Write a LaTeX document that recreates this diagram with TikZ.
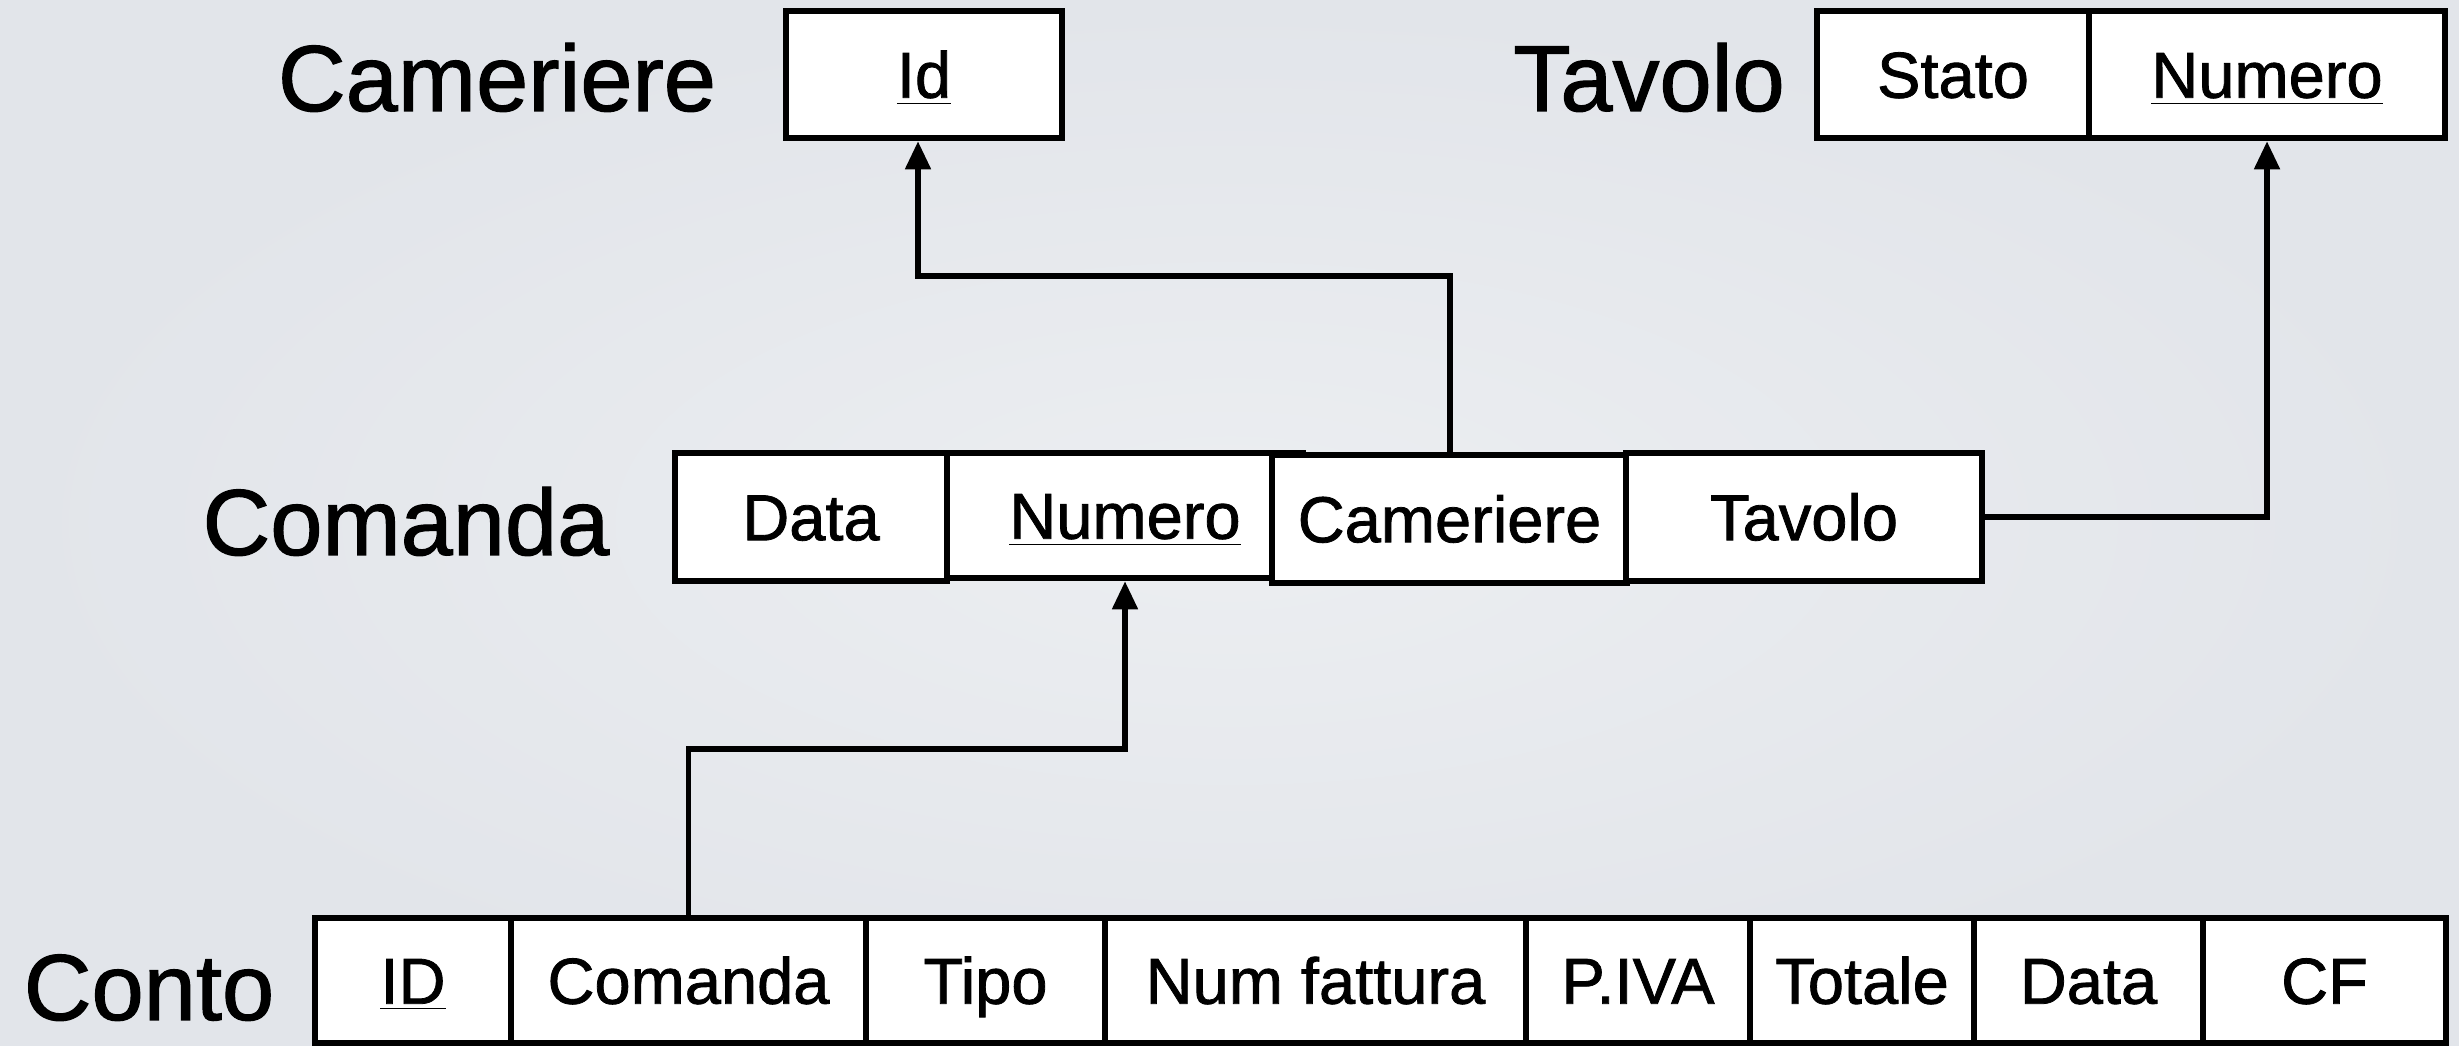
\documentclass[tikz,border=0pt]{standalone}
\usepackage{fontspec}
\setmainfont{Liberation Sans}
\newfontfamily\heavyfont[FakeBold=1.2]{Liberation Sans}
\usetikzlibrary{arrows.meta}
\definecolor{bgin}{RGB}{236,238,241}
\definecolor{bgout}{RGB}{226,229,234}
\tikzset{
  cell/.style={draw=black, line width=1.8pt, fill=white, rectangle, inner sep=0pt,
    font=\heavyfont\fontsize{18.5}{20}\selectfont, text height=0.465cm, text depth=0pt},
  lbl/.style={font=\heavyfont\fontsize{26.7}{30}\selectfont, inner sep=0pt, anchor=base},
  fk/.style={line width=1.7pt, -{Triangle[length=8pt,width=7pt]}}
}
\begin{document}
\begin{tikzpicture}
\useasboundingbox (0,0) rectangle (24.59,-10.46);
\shade[inner color=bgin, outer color=bgout] (0,0) rectangle (24.59,-10.46);

% labels
\node[lbl] (lCam) at (4.97,-1.11) {Cameriere};
\node[lbl] (lTav) at (16.49,-1.11) {Tavolo};
\node[lbl] (lCom) at (4.06,-5.55) {Comanda};
\node[lbl] (lCon) at (1.49,-10.20) {Conto};

% Cameriere
\node[cell, minimum width=2.76cm, minimum height=1.27cm] (camId) at (9.24,-0.745) {\underline{Id}};

% Tavolo
\node[cell, minimum width=2.72cm, minimum height=1.27cm] (tStato) at (19.53,-0.745) {Stato};
\node[cell, minimum width=3.56cm, minimum height=1.27cm] (tNum) at (22.67,-0.745) {\underline{Numero}};

% Comanda
\node[cell, minimum width=2.72cm, minimum height=1.28cm] (cData) at (8.11,-5.17) {Data};
\node[cell, minimum width=3.56cm, minimum height=1.25cm] (cNum) at (11.25,-5.155) {\underline{Numero}};
\node[cell, minimum width=3.55cm, minimum height=1.28cm] (cCam) at (14.495,-5.19) {Cameriere};
\node[cell, minimum width=3.56cm, minimum height=1.28cm] (cTav) at (18.04,-5.17) {Tavolo};

% Conto
\node[cell, minimum width=1.96cm, minimum height=1.25cm] (kId) at (4.13,-9.805) {\underline{ID}};
\node[cell, minimum width=3.55cm, minimum height=1.25cm] (kCom) at (6.885,-9.805) {Comanda};
\node[cell, minimum width=2.39cm, minimum height=1.25cm] (kTipo) at (9.855,-9.805) {Tipo};
\node[cell, minimum width=4.21cm, minimum height=1.25cm] (kNum) at (13.155,-9.805) {Num fattura};
\node[cell, minimum width=2.24cm, minimum height=1.25cm] (kPiva) at (16.38,-9.805) {P.IVA};
\node[cell, minimum width=2.24cm, minimum height=1.25cm] (kTot) at (18.62,-9.805) {Totale};
\node[cell, minimum width=2.29cm, minimum height=1.25cm] (kData) at (20.885,-9.805) {Data};
\node[cell, minimum width=2.43cm, minimum height=1.25cm] (kCF) at (23.245,-9.805) {CF};

% connectors
\draw[fk] (cCam.north) -- ++(0,1.76) -| ([xshift=-0.06cm]camId.south);
\draw[fk] (cTav.east) -| (tNum.south);
\draw[fk] (kCom.north) -- ++(0,1.66) -| (cNum.south);
\end{tikzpicture}
\end{document}
